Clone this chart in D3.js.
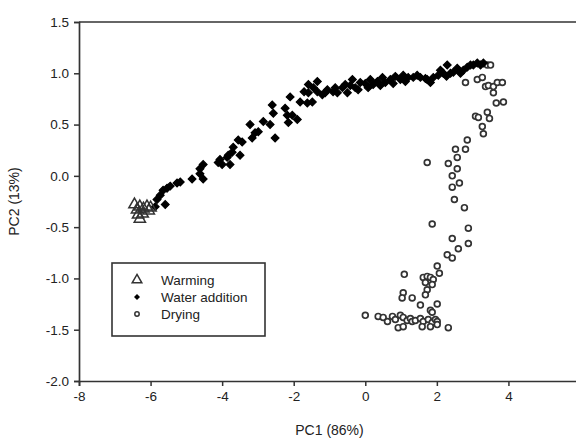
<!DOCTYPE html>
<html>
<head>
<meta charset="utf-8">
<script src="https://cdn.jsdelivr.net/npm/d3@7"></script>
<style>
  body { margin: 0; background: #fff; }
  text { font-family: "Liberation Sans", Arial, sans-serif; fill: #222; }
</style>
</head>
<body>
<svg id="graphContainer"></svg>
<script>
/* données : [PC1, PC2] */
const warming = [
  [-6.45, -0.28], [-6.38, -0.33], [-6.3, -0.3], [-6.2, -0.32], [-6.1, -0.3],
  [-6.0, -0.31], [-6.3, -0.42], [-6.35, -0.38], [-6.22, -0.37], [-6.05, -0.34]
]

const waterAddition = [
  [-5.87, -0.3], [-5.82, -0.23], [-5.73, -0.19], [-5.65, -0.14], [-5.59, -0.28],
  [-5.54, -0.12], [-5.45, -0.1], [-5.26, -0.07], [-5.17, -0.06], [-4.84, -0.03],
  [-4.62, 0.02], [-4.62, 0.07], [-4.53, 0.11], [-4.53, -0.03], [-4.11, 0.13],
  [-4.06, 0.16], [-4.0, 0.11], [-3.86, 0.18], [-3.83, 0.2], [-3.78, 0.11],
  [-3.72, 0.23], [-3.69, 0.28], [-3.55, 0.35], [-3.5, 0.2], [-3.44, 0.33],
  [-3.22, 0.5], [-3.16, 0.37], [-3.08, 0.42], [-2.99, 0.43], [-2.85, 0.53],
  [-2.66, 0.5], [-2.6, 0.69], [-2.57, 0.61], [-2.52, 0.37], [-2.24, 0.66],
  [-2.18, 0.59], [-2.15, 0.52], [-2.1, 0.77], [-2.04, 0.59], [-1.9, 0.55],
  [-1.82, 0.72], [-1.71, 0.82], [-1.62, 0.71], [-1.59, 0.89], [-1.59, 0.81],
  [-1.48, 0.72], [-1.45, 0.86], [-1.34, 0.92], [-1.34, 0.82], [-1.2, 0.79],
  [-1.12, 0.81], [-1.06, 0.84], [-0.9, 0.82], [-0.84, 0.86], [-0.78, 0.81],
  [-0.64, 0.86], [-0.56, 0.89], [-0.5, 0.81], [-0.42, 0.88], [-0.36, 0.94],
  [-0.28, 0.86], [-0.2, 0.84], [-0.14, 0.91], [0.0, 0.9], [0.08, 0.86],
  [0.14, 0.94], [0.22, 0.89], [0.34, 0.92], [0.42, 0.88], [0.48, 0.96],
  [0.56, 0.91], [0.7, 0.94], [0.78, 0.9], [0.84, 0.97], [0.98, 0.94],
  [1.06, 0.98], [1.12, 0.92], [1.2, 0.96], [1.34, 0.96], [1.45, 0.98],
  [1.54, 0.96], [1.68, 0.95], [1.73, 0.94], [1.82, 0.91], [1.9, 0.96],
  [2.04, 0.98], [2.1, 1.03], [2.18, 1.0], [2.27, 0.97], [2.29, 1.08],
  [2.38, 1.0], [2.46, 1.01], [2.57, 1.05], [2.66, 1.0], [2.74, 1.03],
  [2.85, 1.06], [2.94, 1.08], [3.02, 1.08], [3.13, 1.1], [3.22, 1.08],
  [3.3, 1.1]
]

const drying = [
  [2.8, 0.91], [3.13, 0.94], [3.27, 0.96], [3.41, 1.08], [3.5, 1.08],
  [3.36, 0.87], [3.44, 0.88], [3.58, 0.87], [3.69, 0.91], [3.83, 0.91],
  [3.58, 0.81], [3.66, 0.71], [3.86, 0.72], [3.41, 0.62], [3.08, 0.58],
  [3.16, 0.57], [3.47, 0.56], [3.27, 0.48], [3.3, 0.41], [2.85, 0.35],
  [2.8, 0.26], [2.52, 0.26], [2.57, 0.18], [1.73, 0.13], [2.32, 0.12],
  [2.57, 0.07], [2.43, 0.0], [2.63, -0.07], [2.43, -0.11], [2.49, -0.23],
  [2.77, -0.31], [1.87, -0.47], [2.88, -0.51], [2.43, -0.61], [2.88, -0.66],
  [2.6, -0.71], [2.29, -0.77], [2.43, -0.8], [2.01, -0.88], [2.07, -0.95],
  [1.09, -0.96], [1.62, -0.99], [1.73, -0.98], [1.68, -1.04], [1.82, -0.99],
  [1.9, -1.01], [1.87, -1.06], [1.73, -1.11], [1.06, -1.14], [1.03, -1.19],
  [1.31, -1.19], [1.68, -1.16], [1.54, -1.26], [2.01, -1.25], [1.82, -1.31],
  [1.87, -1.33], [0.0, -1.36], [0.36, -1.37], [0.5, -1.38], [0.62, -1.42],
  [0.76, -1.37], [0.84, -1.4], [0.98, -1.36], [1.06, -1.38], [1.17, -1.41],
  [1.26, -1.39], [1.31, -1.42], [1.4, -1.41], [1.54, -1.39], [1.62, -1.42],
  [1.76, -1.4], [1.87, -1.43], [1.96, -1.4], [2.01, -1.42], [0.92, -1.48],
  [1.06, -1.47], [1.59, -1.47], [1.82, -1.47], [2.01, -1.45], [2.32, -1.48]
]

const xTicks = [-8, -6, -4, -2, 0, 2, 4, 6]
const yTicks = [-2.0, -1.5, -1.0, -0.5, 0.0, 0.5, 1.0, 1.5]
const legendLabels = ['Warming', 'Water addition', 'Drying']

const width = 576, height = 439
const margin = {top: 22, left: 79, bottom: 58, right: -4}

let svgContainer = d3.select('#graphContainer')
                     .attr('width', width)
                     .attr('height', height)

/* échelles */
const xScale = d3.scaleLinear()
                 .domain([-8, 6])
                 .range([margin.left, width - margin.right])
const yScale = d3.scaleLinear()
                 .domain([-2, 1.5])
                 .range([height - margin.bottom, margin.top])

const axisColor = '#333'

/* cadre haut */
svgContainer.append('line')
            .attr('x1', xScale(-8)).attr('x2', xScale(6))
            .attr('y1', yScale(1.5)).attr('y2', yScale(1.5))
            .attr('stroke', axisColor).attr('stroke-width', 1.7)

/* axes */
const xAxis = d3.axisBottom(xScale)
                .tickValues(xTicks)
                .tickSizeOuter(0)
                .tickSize(5)
                .tickPadding(5)
const yAxis = d3.axisLeft(yScale)
                .tickValues(yTicks)
                .tickSizeOuter(0)
                .tickSize(5)
                .tickPadding(5)

const gx = svgContainer.append('g')
            .attr('transform', 'translate(0,' + yScale(-2) + ')')
            .call(xAxis)
const gy = svgContainer.append('g')
            .attr('transform', 'translate(' + xScale(-8) + ',0)')
            .call(yAxis)

;[gx, gy].forEach(g => {
  g.select('.domain').attr('stroke', axisColor).attr('stroke-width', 1.7)
  g.selectAll('.tick line').attr('stroke', axisColor).attr('stroke-width', 1.5)
  g.selectAll('.tick text')
   .style('font-family', '"Liberation Sans", Arial, sans-serif')
   .style('font-size', '13.5px')
   .attr('fill', '#1a1a1a')
})
gx.selectAll('.tick text').text(d => d3.format('d')(d).replace('−', '-'))
gy.selectAll('.tick text').text(d => d3.format('.1f')(d).replace('−', '-'))

/* titres des axes */
svgContainer.append('text')
            .attr('x', (xScale(-8) + xScale(6)) / 2)
            .attr('y', 435)
            .attr('text-anchor', 'middle')
            .style('font-size', '14px')
            .text('PC1 (86%)')
svgContainer.append('text')
            .attr('transform', 'rotate(-90)')
            .attr('x', -(yScale(-2) + yScale(1.5)) / 2)
            .attr('y', 19)
            .attr('text-anchor', 'middle')
            .style('font-size', '14px')
            .text('PC2 (13%)')

/* points */
const diamond = d3.symbol().type(d3.symbolSquare).size(30)
const triangle = d3.symbol().type(d3.symbolTriangle).size(55)

svgContainer.append('g').selectAll('circle')
            .data(drying)
            .enter()
            .append('circle')
            .attr('cx', d => xScale(d[0]))
            .attr('cy', d => yScale(d[1]))
            .attr('r', 2.9)
            .attr('fill', '#fff')
            .attr('stroke', '#333')
            .attr('stroke-width', 1.7)

svgContainer.append('g').selectAll('path')
            .data(waterAddition)
            .enter()
            .append('path')
            .attr('d', diamond)
            .attr('transform', d => 'translate(' + xScale(d[0]) + ',' + yScale(d[1]) + ') rotate(45)')
            .attr('fill', '#000')
            .attr('stroke', '#000')
            .attr('stroke-width', 1.2)

svgContainer.append('g').selectAll('path')
            .data(warming)
            .enter()
            .append('path')
            .attr('d', triangle)
            .attr('transform', d => 'translate(' + xScale(d[0]) + ',' + yScale(d[1]) + ')')
            .attr('fill', 'none')
            .attr('stroke', '#333')
            .attr('stroke-width', 1.5)

/* légende */
const legend = svgContainer.append('g')
legend.append('rect')
      .attr('x', 112).attr('y', 263)
      .attr('width', 153).attr('height', 73)
      .attr('fill', '#fff')
      .attr('stroke', axisColor)
      .attr('stroke-width', 1.6)

legendLabels.forEach((label, i) => {
  const y = 280 + i * 17
  if (i == 0) {
    legend.append('path').attr('d', d3.symbol().type(d3.symbolTriangle).size(40))
          .attr('transform', 'translate(137,' + y + ')')
          .attr('fill', 'none').attr('stroke', '#333').attr('stroke-width', 1.5)
  } else if (i == 1) {
    legend.append('path').attr('d', d3.symbol().type(d3.symbolSquare).size(18))
          .attr('transform', 'translate(137,' + y + ') rotate(45)')
          .attr('fill', '#000')
  } else {
    legend.append('circle').attr('cx', 137).attr('cy', y).attr('r', 2.2)
          .attr('fill', '#fff').attr('stroke', '#333').attr('stroke-width', 1.5)
  }
  legend.append('text')
        .attr('x', 161)
        .attr('y', y + 4.5)
        .style('font-size', '13.5px')
        .text(label)
})
</script>
</body>
</html>
